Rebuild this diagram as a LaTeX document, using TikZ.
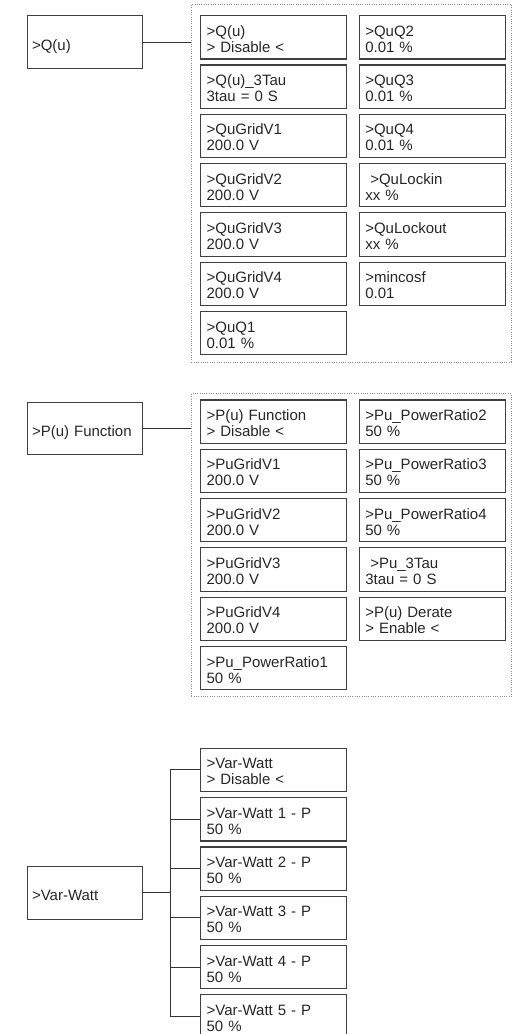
\documentclass[tikz,border=0pt]{standalone}
\usepackage{fontspec}
\setmainfont{Liberation Sans}
\begin{document}
\begin{tikzpicture}[x=1pt, y=-1pt, every node/.style={font=\fontsize{15}{16}\selectfont, text=black!85}, menubox/.style={draw=black!75, line width=1.1pt, anchor=north west, minimum width=115pt, text width=105pt, inner xsep=5pt, inner ysep=0pt, text height=19pt, text depth=3pt, align=left}, itembox/.style={draw=black!75, line width=1.2pt, anchor=north west, minimum width=146pt, minimum height=43.3pt, text width=134pt, inner xsep=6pt, inner ysep=0pt, text height=17pt, text depth=19pt, align=left}, groupframe/.style={draw=black!45, line width=0.7pt, dash pattern=on 0.7pt off 1.6pt, anchor=north west, inner sep=0pt}, link/.style={draw=black!80, line width=1pt}]

		\useasboundingbox (0,0) rectangle (512,1034);

		% Q(u) settings
		\node[menubox, minimum height=53pt] (qu) at (26.5, 15) {>Q(u)};

		\node[groupframe, minimum width=320pt, minimum height=357.5pt] (quframe) at (191, 4) {};

		\node[itembox] (quonoff) at (200, 15) {>Q(u)\\> Disable <};

		\node[itembox] (qutau) at (200, 64.3) {>Q(u)\_3Tau\\3tau = 0 S};

		\node[itembox] (qugridone) at (200, 113.6) {>QuGridV1\\200.0 V};

		\node[itembox] (qugridtwo) at (200, 162.9) {>QuGridV2\\200.0 V};

		\node[itembox] (qugridthree) at (200, 212.2) {>QuGridV3\\200.0 V};

		\node[itembox] (qugridfour) at (200, 261.5) {>QuGridV4\\200.0 V};

		\node[itembox] (quqone) at (200, 310.8) {>QuQ1\\0.01 \%};

		\node[itembox] (quqtwo) at (358.7, 15) {>QuQ2\\0.01 \%};

		\node[itembox] (quqthree) at (358.7, 64.3) {>QuQ3\\0.01 \%};

		\node[itembox] (quqfour) at (358.7, 113.6) {>QuQ4\\0.01 \%};

		\node[itembox] (qulockin) at (358.7, 162.9) {\ >QuLockin\\xx \%};

		\node[itembox] (qulockout) at (358.7, 212.2) {>QuLockout\\xx \%};

		\node[itembox] (qucosf) at (358.7, 261.5) {>mincosf\\0.01};

		\draw[link] (qu.east) -- (qu.east -| quframe.west);

		% P(u) settings
		\node[menubox, minimum height=52pt] (pu) at (26.5, 402.3) {>P(u) Function};

		\node[groupframe, minimum width=320pt, minimum height=302.7pt] (puframe) at (191, 393.3) {};

		\node[itembox] (puonoff) at (200, 399.3) {>P(u) Function\\> Disable <};

		\node[itembox] (pugridone) at (200, 448.6) {>PuGridV1\\200.0 V};

		\node[itembox] (pugridtwo) at (200, 497.9) {>PuGridV2\\200.0 V};

		\node[itembox] (pugridthree) at (200, 547.2) {>PuGridV3\\200.0 V};

		\node[itembox] (pugridfour) at (200, 596.5) {>PuGridV4\\200.0 V};

		\node[itembox] (puratioone) at (200, 645.8) {>Pu\_PowerRatio1\\50 \%};

		\node[itembox] (puratiotwo) at (358.7, 399.3) {>Pu\_PowerRatio2\\50 \%};

		\node[itembox] (puratiothree) at (358.7, 448.6) {>Pu\_PowerRatio3\\50 \%};

		\node[itembox] (puratiofour) at (358.7, 497.9) {>Pu\_PowerRatio4\\50 \%};

		\node[itembox] (putau) at (358.7, 547.2) {\ >Pu\_3Tau\\3tau = 0 S};

		\node[itembox] (puderate) at (358.7, 596.5) {>P(u) Derate\\> Enable <};

		\draw[link] (pu.east) -- (pu.east -| puframe.west);

		% Var-Watt settings
		\node[menubox, minimum height=52.7pt] (vw) at (26.5, 866) {>Var-Watt};

		\node[itembox] (vwonoff) at (200, 747.7) {>Var-Watt\\> Disable <};

		\node[itembox] (vwone) at (200, 797) {>Var-Watt 1 - P\\50 \%};

		\node[itembox] (vwtwo) at (200, 846.3) {>Var-Watt 2 - P\\50 \%};

		\node[itembox] (vwthree) at (200, 895.6) {>Var-Watt 3 - P\\50 \%};

		\node[itembox] (vwfour) at (200, 944.9) {>Var-Watt 4 - P\\50 \%};

		\node[itembox] (vwfive) at (200, 994.2) {>Var-Watt 5 - P\\50 \%};

		\coordinate (vwbus) at (170, 0);

		\draw[link] (vw.east) -- (vw.east -| vwbus);

		\draw[link] (vwonoff.west) -- (vwonoff.west -| vwbus) -- (vwfive.west -| vwbus) -- (vwfive.west);

		\draw[link] (vwone.west) -- (vwone.west -| vwbus);

		\draw[link] (vwtwo.west) -- (vwtwo.west -| vwbus);

		\draw[link] (vwthree.west) -- (vwthree.west -| vwbus);

		\draw[link] (vwfour.west) -- (vwfour.west -| vwbus);

	\end{tikzpicture}
\end{document}
